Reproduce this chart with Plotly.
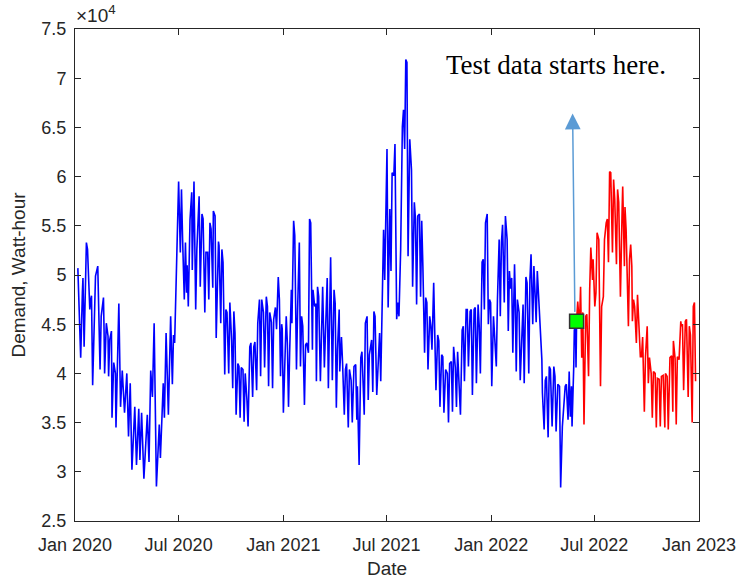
import pandas as pd
import plotly.graph_objects as go

START_DATE = "2020-01-01"

# Days since 2020-01-01 and demand (Watt-hour), training part (blue)
train_days = [
    5, 10, 13, 14, 16, 20, 22, 26, 27, 29,
    31, 33, 36, 40, 42, 44, 46, 50, 51, 52,
    55, 58, 59, 61, 64, 65, 68, 71, 72, 77,
    80, 83, 87, 91, 94, 97, 100, 105, 108, 112,
    114, 117, 121, 127, 130, 133, 136, 139, 143, 148,
    150, 155, 157, 160, 164, 168, 171, 173, 175, 177,
    178, 182, 185, 187, 189, 192, 194, 196, 197, 199,
    202, 205, 206, 209, 212, 214, 218, 220, 223, 225,
    228, 230, 233, 235, 237, 239, 242, 243, 246, 248,
    252, 253, 256, 258, 260, 263, 265, 267, 270, 272,
    275, 277, 279, 281, 283, 286, 288, 290, 292, 295,
    297, 299, 302, 304, 307, 309, 312, 314, 316, 319,
    321, 324, 326, 328, 331, 333, 336, 338, 340, 342,
    345, 347, 349, 352, 354, 357, 359, 361, 363, 364,
    366, 369, 371, 373, 375, 377, 380, 381, 384, 386,
    389, 391, 394, 396, 398, 400, 403, 405, 407, 410,
    412, 414, 417, 418, 421, 423, 424, 426, 428, 431,
    433, 435, 438, 441, 443, 445, 448, 449, 452, 455,
    457, 459, 461, 464, 465, 468, 470, 473, 475, 477,
    480, 482, 485, 487, 490, 493, 495, 496, 499, 502,
    504, 508, 510, 513, 515, 517, 521, 523, 525, 527,
    530, 532, 535, 537, 540, 542, 544, 546, 548, 550,
    553, 555, 557, 560, 562, 565, 567, 569, 572, 575,
    577, 579, 581, 583, 585, 588, 591, 593, 596, 598,
    600, 602, 605, 607, 609, 611, 614, 616, 618, 620,
    623, 625, 627, 630, 632, 634, 637, 639, 641, 644,
    646, 648, 651, 654, 656, 658, 661, 663, 665, 668,
    670, 672, 677, 680, 682, 684, 687, 689, 691, 694,
    696, 698, 701, 703, 705, 708, 710, 712, 715, 717,
    719, 721, 724, 726, 728, 730, 732, 735, 737, 740,
    742, 745, 747, 749, 751, 754, 756, 759, 761, 763,
    765, 767, 769, 772, 773, 775, 777, 780, 782, 784,
    787, 789, 792, 794, 797, 799, 801, 804, 806, 808,
    810, 812, 814, 818, 820, 821, 824, 826, 828, 831,
    833, 835, 838, 841, 843, 845, 848, 851, 853, 856,
    858, 861, 863, 866, 868, 870, 872, 873, 876, 877,
    879, 880, 881,
]
train_demand = [
    50700, 41600, 48300, 49700, 42700, 53300, 52600, 46500, 47300, 47900,
    38800, 44400, 49900, 50900, 45800, 40400, 45800, 47700, 44500, 40000,
    45100, 43800, 39700, 43400, 44300, 35500, 41100, 40000, 34500, 47100,
    36600, 40300, 36000, 40000, 33600, 39000, 30200, 36600, 30700, 36400,
    31200, 36000, 29300, 35800, 31000, 40300, 37600, 45100, 28500, 34800,
    31400, 39000, 35500, 44100, 35800, 45800, 38900, 43900, 43100, 47500,
    49800, 59500, 52300, 58700, 53600, 47500, 53300, 48200, 51000, 46800,
    55600, 58400, 50500, 59500, 46500, 52600, 58000, 48800, 56200, 55700,
    46200, 52300, 52300, 47500, 55300, 54700, 48700, 56500, 56000, 43600,
    53400, 53000, 45100, 52600, 51300, 39900, 46500, 46200, 40000, 47200,
    43400, 38500, 46300, 44100, 35800, 41000, 40700, 35500, 40600, 40400,
    35100, 40000, 37300, 34600, 42700, 43100, 37600, 42700, 43200, 38300,
    45100, 47500, 39700, 47500, 46200, 40600, 47800, 46800, 38700, 46200,
    45200, 38500, 45500, 46700, 44500, 49800, 47500, 39700, 45000, 44500,
    36000, 42700, 45800, 43100, 36600, 42100, 48500, 45100, 55500, 54000,
    40400, 46500, 53300, 40700, 45800, 44800, 36800, 42900, 43100, 42100,
    55700, 55300, 42400, 48500, 46800, 47100, 39200, 48800, 47800, 39200,
    46200, 48800, 40600, 47800, 49700, 38500, 48200, 51800, 39300, 48500,
    47100, 36500, 42400, 46500, 40200, 43700, 41000, 35800, 40400, 41000,
    34500, 40400, 39300, 35000, 40700, 40900, 35300, 38700, 30700, 41600,
    42200, 35800, 45100, 45800, 37300, 41900, 43400, 38100, 46300, 45800,
    37800, 40400, 44100, 39200, 48500, 54600, 49500, 58700, 62800, 46700,
    56700, 50400, 60400, 60100, 63300, 45500, 47200, 45800, 52600, 65100,
    66800, 62800, 71900, 71600, 51900, 63800, 60700, 48800, 57400, 55700,
    47000, 56000, 56200, 47800, 55500, 50900, 42100, 47700, 47200, 40400,
    45800, 44800, 42400, 49200, 42400, 38300, 43900, 43300, 36600, 41900,
    41700, 36000, 40400, 40000, 35000, 41000, 41200, 36100, 42700, 40600,
    36600, 42200, 35800, 44400, 44800, 39200, 46500, 46500, 40700, 46300,
    46500, 37800, 46500, 46700, 39000, 47000, 44800, 40000, 51300, 51600,
    46500, 55300, 56200, 45000, 47500, 47200, 38700, 45800, 43800, 40700,
    47500, 53600, 45800, 53300, 55100, 47200, 56000, 53600, 44300, 50400,
    48600, 49700, 42100, 51100, 48600, 40200, 47500, 46200, 39300, 43300,
    47000, 39000, 49800, 49200, 40000, 49500, 52100, 45000, 50900, 48200,
    45200, 50400, 47900, 42400, 41400, 38000, 34300, 39300, 39700, 33500,
    40700, 40400, 34600, 40700, 39700, 34100, 38900, 38700, 28400, 34600,
    36800, 38700, 38900, 35300, 40200, 35600, 38700, 34600, 40700, 44400,
    44800, 40600, 45300,
]

# Test part (red)
test_days = [
    881, 883, 886, 888, 890, 892, 894, 897, 899, 902,
    904, 906, 909, 910, 913, 915, 917, 920, 923, 925,
    928, 930, 933, 935, 937, 939, 941, 944, 946, 948,
    951, 953, 955, 958, 961, 962, 965, 966, 968, 970,
    972, 974, 976, 978, 979, 981, 983, 986, 988, 990,
    993, 995, 997, 1000, 1002, 1005, 1007, 1009, 1012, 1014,
    1016, 1019, 1021, 1023, 1026, 1028, 1030, 1033, 1036, 1037,
    1040, 1042, 1045, 1048, 1050, 1051, 1054, 1056, 1058, 1061,
    1064, 1065, 1067, 1069, 1072, 1074, 1077, 1079, 1081, 1084,
    1086, 1088, 1090,
]
test_demand = [
    45300, 47300, 44800, 48800, 41600, 46200, 34800, 45800, 46000, 39700,
    48500, 52800, 49500, 51600, 46800, 48200, 54300, 53600, 38700, 46800,
    47800, 53600, 55300, 55700, 51300, 60500, 60400, 52300, 59700, 57700,
    51100, 58700, 57400, 47800, 56700, 59000, 50900, 56900, 54600, 50600,
    44800, 51600, 53100, 50900, 45300, 47500, 46800, 43100, 48000, 45500,
    41700, 41700, 43700, 36100, 41700, 44800, 39000, 41600, 40000, 35500,
    40200, 40000, 34500, 39500, 39400, 34600, 39700, 39800, 34500, 40000,
    39700, 34300, 41600, 41800, 36100, 43300, 41500, 34800, 41700, 41400,
    45300, 44800, 45000, 38300, 45300, 45500, 37600, 44800, 43900, 35000,
    46800, 47200, 39200,
]

x_tick_dates = ["2020-01-01", "2020-07-01", "2021-01-01", "2021-07-01",
                "2022-01-01", "2022-07-01", "2023-01-01"]
x_tick_labels = ["Jan 2020", "Jul 2020", "Jan 2021", "Jul 2021",
                 "Jan 2022", "Jul 2022", "Jan 2023"]
y_tick_values = [25000, 30000, 35000, 40000, 45000, 50000,
                 55000, 60000, 65000, 70000, 75000]
y_tick_labels = ["2.5", "3", "3.5", "4", "4.5", "5", "5.5", "6", "6.5", "7", "7.5"]

note_text = "Test data starts here."
note_date = "2022-04-24"
note_value = 71300
arrow_tail_date = "2022-05-28"
arrow_tail_value = 46100
arrow_tip_date = "2022-05-24"
arrow_tip_value = 66400

start = pd.Timestamp(START_DATE)
train_x = start + pd.to_timedelta(train_days, unit="D")
test_x = start + pd.to_timedelta(test_days, unit="D")

AX = "#262626"
SANS = "Liberation Sans, Arial, sans-serif"
fig = go.Figure()
fig.add_trace(go.Scatter(x=train_x, y=train_demand, mode="lines",
                         line=dict(color="#0000ff", width=1.6)))
fig.add_trace(go.Scatter(x=test_x, y=test_demand, mode="lines",
                         line=dict(color="#ff0000", width=1.6)))
fig.add_trace(go.Scatter(x=[test_x[0]], y=[test_demand[0]], mode="markers",
                         marker=dict(symbol="square", size=14, color="#00ff00",
                                     line=dict(color="#333333", width=1.5))))

fig.add_annotation(x=arrow_tip_date, y=arrow_tip_value, xref="x", yref="y",
                   ax=arrow_tail_date, ay=arrow_tail_value, axref="x", ayref="y",
                   text="", showarrow=True, arrowhead=2, arrowsize=2.1,
                   arrowwidth=1.5, arrowcolor="#5b9bd5", standoff=0)
fig.add_annotation(x=note_date, y=note_value, xref="x", yref="y", text=note_text,
                   showarrow=False, xanchor="center", yanchor="middle",
                   font=dict(family="Liberation Serif, Times New Roman, serif",
                             size=27, color="black"))
fig.add_annotation(x=0, y=1, xref="paper", yref="paper", xanchor="left",
                   yanchor="bottom", text="\u00d710<sup>4</sup>", showarrow=False,
                   xshift=-1, yshift=1,
                   font=dict(family=SANS, size=19, color=AX))

fig.update_layout(
    width=740, height=583,
    margin=dict(l=75, r=41, t=29, b=62, autoexpand=False),
    plot_bgcolor="white", paper_bgcolor="white",
    showlegend=False,
    font=dict(family=SANS, size=18, color=AX),
)
fig.update_xaxes(
    range=[pd.Timestamp("2020-01-01"), pd.Timestamp("2023-01-01")],
    tickvals=x_tick_dates, ticktext=x_tick_labels,
    ticks="inside", ticklen=6, tickcolor=AX, tickwidth=1,
    ticklabelstandoff=7, automargin=False,
    showline=True, linecolor=AX, linewidth=1, mirror="ticks",
    showgrid=False, zeroline=False,
    title=dict(text="Date", font=dict(size=19, color=AX), standoff=8),
)
fig.update_yaxes(
    range=[25000, 75000],
    tickvals=y_tick_values, ticktext=y_tick_labels,
    ticks="inside", ticklen=6, tickcolor=AX, tickwidth=1,
    ticklabelstandoff=4, automargin=False,
    showline=True, linecolor=AX, linewidth=1, mirror="ticks",
    showgrid=False, zeroline=False,
    title=dict(text="Demand, Watt-hour", font=dict(size=19, color=AX), standoff=10),
)

fig.write_html("out.html")
